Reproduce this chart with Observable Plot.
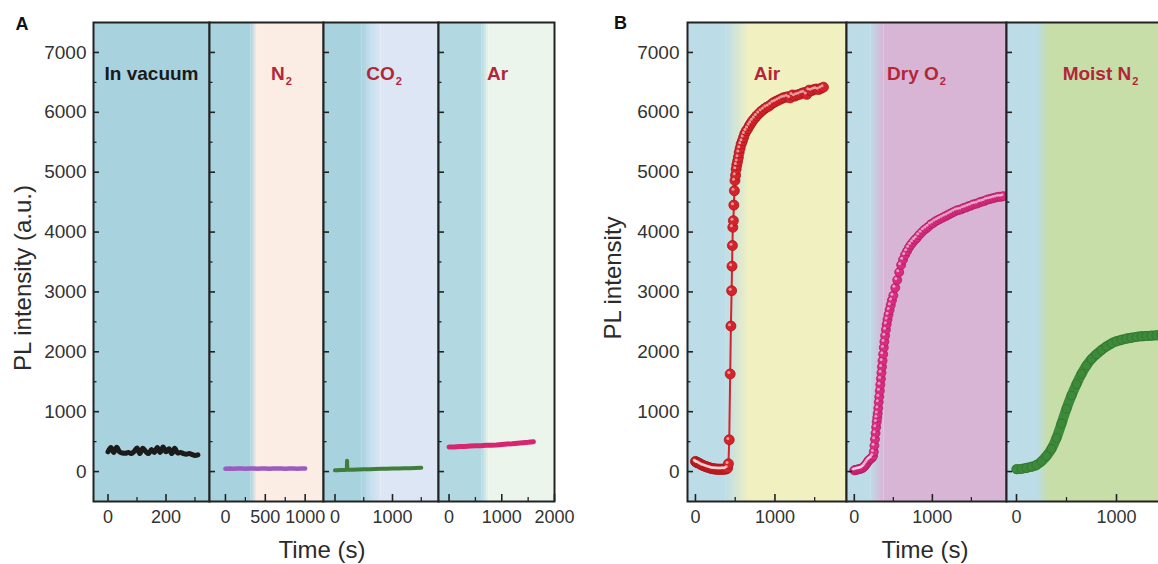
<!DOCTYPE html>
<html>
<head>
<meta charset="utf-8">
<script src="https://cdn.jsdelivr.net/npm/d3@7"></script>
<script src="https://cdn.jsdelivr.net/npm/@observablehq/plot@0.6"></script>
<style>
  html, body { margin: 0; padding: 0; background: #fff; overflow: hidden; }
  #chart { position: relative; width: 1158px; height: 564px; overflow: hidden; background: #fff;
           font-family: "Liberation Sans", Arial, Helvetica, sans-serif; }
  #chart .sub { position: absolute; top: 0; }
  #chart .sub svg { max-width: none !important; display: block; }
  .t { position: absolute; color: #2b2b2b; white-space: nowrap; line-height: 1; }
  .rot { transform: translate(-50%, -50%) rotate(-90deg); }
  .hz { transform: translate(-50%, -50%); }
  .letter { font-weight: bold; font-size: 18px; color: #111; }
  .title { font-size: 24px; }
</style>
</head>
<body>
<svg width="0" height="0" style="position:absolute"><defs id="grads"></defs></svg>
<div id="chart"></div>
<script>
// ---------------- data ----------------
const yTicks = [0, 1000, 2000, 3000, 4000, 5000, 6000, 7000];
const yMinorTicks = [500, 1500, 2500, 3500, 4500, 5500, 6500];
const yDomain = [-500, 7500];

// Panel A
const vacuumTime = [0,10,20,30,40,50,60,70,80,90,100,110,120,130,140,150,160,170,180,190,200,210,220,230,240,250,260,270,280,290,300,310];
const vacuumPL   = [330,400,320,405,330,310,305,320,300,335,395,300,390,335,300,370,320,400,320,410,330,380,300,390,310,320,300,290,300,285,270,280];

const n2Time = [0,50,100,150,200,250,300,350,400,450,500,550,600,650,700,750,800,850,900,950,1000];
const n2PL   = [45,50,48,52,50,47,50,52,49,50,51,48,50,52,50,49,51,50,48,50,50];

const co2Time = [0,50,100,150,205,210,215,250,300,400,500,600,700,800,900,1000,1100,1200,1300,1400,1500];
const co2PL   = [20,22,25,25,30,180,30,30,32,35,38,40,42,45,47,50,52,55,57,60,62];

const arTime = [0,100,200,300,400,500,600,700,800,900,1000,1100,1200,1300,1400,1500,1600];
const arPL   = [410,412,418,420,425,430,432,438,440,445,452,460,465,472,480,488,498];

// Panel B
const airTime = [0,10,20,30,45,60,75,90,105,120,135,150,165,180,195,210,225,240,255,270,285,300,315,330,345,360,375,390,405,415,
  425,437,446,455,460,465,470,477,483,490,497,505,512,520,530,540,550,562,575,590,605,620,640,660,680,700,720,745,770,800,
  830,860,890,920,950,980,1010,1040,1070,1100,1130,1160,1190,1220,1250,1280,1310,1340,1370,1400,1430,1460,1490,1520,1550,1580,1610];
const airPL = [170,160,150,145,140,125,115,105,95,90,80,75,70,60,55,50,45,45,40,40,40,38,40,38,40,42,40,45,60,130,
  530,1630,2430,3020,3430,3775,4080,4190,4450,4690,4860,4950,5050,5120,5180,5250,5330,5400,5470,5520,5580,5640,5690,5730,5780,5820,5860,5900,5940,5980,
  6020,6050,6080,6100,6130,6160,6180,6200,6220,6240,6250,6260,6240,6290,6270,6290,6300,6320,6330,6300,6370,6360,6380,6390,6380,6400,6420];

const dryO2Time = [0,15,30,45,60,75,90,105,120,135,150,165,180,195,210,225,240,
  250,258,265,272,280,287,294,300,307,313,320,327,334,341,348,355,362,370,378,386,395,405,415,426,438,452,467,482,
  500,525,550,575,600,625,650,675,700,725,750,775,800,830,860,890,920,950,980,1010,1040,1070,1100,1130,1160,1190,1220,1250,1280,1310,
  1340,1370,1400,1430,1460,1490,1520,1550,1580,1610,1640,1670,1700,1730,1760,1790,1820,1850,1880,1910];
const dryO2PL = [20,25,30,35,40,45,50,60,75,95,120,150,180,200,215,230,260,
  330,434,540,640,740,830,900,970,1060,1160,1250,1350,1450,1550,1650,1750,1850,1960,2070,2170,2270,2370,2460,2540,2620,2700,2780,2860,
  2940,3070,3200,3330,3450,3540,3620,3680,3740,3790,3830,3870,3900,3950,3990,4030,4060,4090,4130,4150,4180,4200,4220,4240,4260,4280,4300,4320,4340,4360,
  4370,4380,4400,4410,4430,4440,4460,4470,4480,4500,4510,4520,4540,4550,4560,4570,4580,4590,4590,4600];

const moistTime = [0,50,100,150,200,250,300,350,400,450,500,550,600,650,700,750,800,850,900,950,1000,1050,1100,1150,1200,1250,1300,1350,1400,1450];
const moistPL   = [40,45,60,80,110,170,260,380,560,800,1050,1270,1460,1630,1770,1880,1960,2030,2090,2140,2175,2200,2220,2235,2250,2260,2265,2270,2275,2280];

// gas switch windows (s): vacuum -> gas
const n2Switch = [320, 400];
const co2Switch = [470, 800];
const arSwitch = [620, 760];
const airSwitch = [380, 680];
const dryO2Switch = [210, 380];
const moistSwitch = [210, 320];

const labelsA = ["In vacuum", "N\u2082", "CO\u2082", "Ar"];
const labelsB = ["Air", "Dry O\u2082", "Moist N\u2082"];

// ---------------- helpers ----------------
const rows = (t, v) => t.map((x, i) => ({t: x, v: v[i]}));
const H = 564, MT = 22, MB = 63, PH = H - MT - MB;
const FONT = '"Liberation Sans", Arial, Helvetica, sans-serif';
const fmt = d3.format("d");
const SVGNS = "http://www.w3.org/2000/svg";

const BLUE_A = "#a9d2df", BLUE_B = "#bcdce7";
const grads = [
  {id: "gN2", stops: [BLUE_A, "#fcede4"]},
  {id: "gCO2", stops: [BLUE_A, "#c6e0ee", "#dce6f5"]},
  {id: "gAr", stops: ["#b2d8e2", "#ecf5ec"]},
  {id: "gAir", stops: [BLUE_B, "#f1f0c1"]},
  {id: "gO2", stops: [BLUE_B, "#d8b5d5"]},
  {id: "gMoist", stops: [BLUE_B, "#c7dea8"]}
];
const defs = document.getElementById("grads");
for (const g of grads) {
  const lg = document.createElementNS(SVGNS, "linearGradient");
  lg.setAttribute("id", g.id);
  lg.setAttribute("x1", "0"); lg.setAttribute("x2", "1"); lg.setAttribute("y1", "0"); lg.setAttribute("y2", "0");
  g.stops.forEach((c, i) => {
    const s = document.createElementNS(SVGNS, "stop");
    s.setAttribute("offset", String(i / (g.stops.length - 1)));
    s.setAttribute("stop-color", c);
    lg.appendChild(s);
  });
  defs.appendChild(lg);
}

function lineSeries(data, color, width, curve = "linear") {
  return [Plot.line(data, {x: "t", y: "v", stroke: color, strokeWidth: width, curve, strokeLinecap: "round", strokeLinejoin: "round"})];
}
function beadSeries(data, fill, stroke, lineW, r) {
  return [
    Plot.line(data, {x: "t", y: "v", stroke: fill, strokeWidth: lineW}),
    Plot.dot(data, {x: "t", y: "v", r, fill, stroke, strokeWidth: 0.8}),
    Plot.dot(data, {x: "t", y: "v", r: 1.5, dx: -1.4, dy: -1.4, fill: "white", fillOpacity: 0.55})
  ];
}

// render the "₂" in labels as a real lowered subscript
function fixSubscripts(svg) {
  for (const el of svg.querySelectorAll("text")) {
    const s = el.textContent;
    if (!s.includes("\u2082") || el.children.length) continue;
    const [a, b] = s.split("\u2082");
    el.textContent = a;
    const sub = document.createElementNS(SVGNS, "tspan");
    sub.setAttribute("font-size", "11");
    sub.setAttribute("dy", "5");
    sub.setAttribute("dx", "1");
    sub.textContent = "2";
    el.appendChild(sub);
    if (b) {
      const rest = document.createElementNS(SVGNS, "tspan");
      rest.setAttribute("dy", "-5");
      rest.textContent = b;
      el.appendChild(rest);
    }
  }
}

const chart = document.getElementById("chart");

function build(p) {
  const ml = p.ml ?? 40, mr = 40;
  const w = p.right - p.left;
  const [d0, d1] = p.domain;
  const marks = [];
  if (p.sw) {
    marks.push(Plot.rect([{a: d0, b: p.sw[0]}], {x1: "a", x2: "b", fill: p.blue}));
    marks.push(Plot.rect([{a: p.sw[0], b: p.sw[1]}], {x1: "a", x2: "b", fill: `url(#${p.grad})`}));
    marks.push(Plot.rect([{a: p.sw[1], b: d1}], {x1: "a", x2: "b", fill: p.gas}));
  } else {
    marks.push(Plot.rect([{a: d0, b: d1}], {x1: "a", x2: "b", fill: p.blue}));
  }
  marks.push(...p.series);
  marks.push(Plot.tickY(yTicks, {y: d => d, stroke: "#222", strokeWidth: 1.6, insetRight: w - 6}));
  marks.push(Plot.tickY(yMinorTicks, {y: d => d, stroke: "#222", strokeWidth: 1.3, insetRight: w - 3.5}));
  marks.push(Plot.tickX(p.major, {x: d => d, stroke: "#222", strokeWidth: 1.6, insetTop: PH - 7}));
  marks.push(Plot.tickX(p.minor, {x: d => d, stroke: "#222", strokeWidth: 1.3, insetTop: PH - 4}));
  marks.push(Plot.frame({stroke: "#222", strokeWidth: 2}));
  marks.push(Plot.axisX({ticks: p.major, tickSize: 0, tickPadding: 9, tickFormat: fmt, fontSize: 18, color: "#333", label: null}));
  if (p.yLabels) marks.push(Plot.axisY({ticks: yTicks, tickSize: 0, tickPadding: p.yPad, tickFormat: fmt, fontSize: 19, color: "#333", label: null}));
  marks.push(Plot.text([p.label], {text: d => d, frameAnchor: "top", dx: p.dx, dy: 51, lineAnchor: "middle",
    fontSize: 19, fontWeight: "bold", fill: p.labelColor}));
  const svg = Plot.plot({
    width: ml + w + mr, height: H,
    marginLeft: ml, marginRight: mr, marginTop: MT, marginBottom: MB,
    x: {domain: p.domain, label: null},
    y: {domain: yDomain, label: null, axis: p.yLabels ? undefined : null},
    style: {background: "transparent", overflow: "visible", fontFamily: FONT, fontSize: "18px", maxWidth: "none"},
    marks
  });
  fixSubscripts(svg);
  const wrap = document.createElement("div");
  wrap.className = "sub";
  wrap.style.left = (p.left - ml) + "px";
  wrap.style.width = (ml + w + mr) + "px";
  wrap.appendChild(svg);
  chart.appendChild(wrap);
}

const RED_LBL = "#b3263a";

// Panel A
build({left: 93, right: 209, ml: 93, domain: [-50, 350], major: [0, 200], minor: [100, 300], blue: BLUE_A,
  series: lineSeries(rows(vacuumTime, vacuumPL), "#1b1b1b", 5, "catmull-rom"),
  yLabels: true, yPad: 7, label: labelsA[0], labelColor: "#1a1a1a", dx: 0});
build({left: 209, right: 323, domain: [-200, 1230], major: [0, 500, 1000], minor: [250, 750], blue: BLUE_A,
  sw: n2Switch, grad: "gN2", gas: "#fcede4",
  series: lineSeries(rows(n2Time, n2PL), "#9a5cbf", 4.5),
  label: labelsA[1], labelColor: RED_LBL, dx: 15});
build({left: 323, right: 438, domain: [-200, 1800], major: [0, 1000], minor: [500, 1500], blue: BLUE_A,
  sw: co2Switch, grad: "gCO2", gas: "#dce6f5",
  series: lineSeries(rows(co2Time, co2PL), "#3f7d3a", 4),
  label: labelsA[2], labelColor: RED_LBL, dx: 3});
build({left: 438, right: 554, domain: [-200, 2000], major: [0, 1000, 2000], minor: [500, 1500], blue: "#b2d8e2",
  sw: arSwitch, grad: "gAr", gas: "#ecf5ec",
  series: lineSeries(rows(arTime, arPL), "#d6266f", 5),
  label: labelsA[3], labelColor: RED_LBL, dx: 1});

// Panel B
build({left: 687, right: 846, ml: 80, domain: [-100, 1900], major: [0, 1000], minor: [500, 1500], blue: BLUE_B,
  sw: airSwitch, grad: "gAir", gas: "#f1f0c1",
  series: beadSeries(rows(airTime, airPL), "#d6232a", "#a8161c", 2, 5),
  yLabels: true, yPad: 8, label: labelsB[0], labelColor: RED_LBL, dx: 0});
build({left: 846, right: 1006, domain: [-100, 1950], major: [0, 1000], minor: [500, 1500], blue: BLUE_B,
  sw: dryO2Switch, grad: "gO2", gas: "#d8b5d5",
  series: beadSeries(rows(dryO2Time, dryO2PL), "#d92b80", "#b01d66", 2, 4.5),
  label: labelsB[1], labelColor: RED_LBL, dx: -10});
build({left: 1006, right: 1166, domain: [-100, 1500], major: [0, 1000], minor: [500], blue: BLUE_B,
  sw: moistSwitch, grad: "gMoist", gas: "#c7dea8",
  series: [
    Plot.line(rows(moistTime, moistPL), {x: "t", y: "v", stroke: "#3e8a3b", strokeWidth: 10, curve: "natural", strokeLinecap: "round"}),
    Plot.dot(rows(moistTime, moistPL), {x: "t", y: "v", r: 4.5, fill: "#3e8a3b", stroke: "#2f742d", strokeWidth: 0.8})
  ],
  label: labelsB[2], labelColor: RED_LBL, dx: 14});

// titles
function addText(txt, cls, x, y) {
  const d = document.createElement("div");
  d.className = "t " + cls;
  d.textContent = txt;
  d.style.left = x + "px";
  d.style.top = y + "px";
  chart.appendChild(d);
}
addText("A", "letter hz", 22, 23.5);
addText("B", "letter hz", 620.5, 22.5);
addText("PL intensity (a.u.)", "title rot", 22.5, 278);
addText("PL intensity", "title rot", 613, 278);
addText("Time (s)", "title hz", 322, 550);
addText("Time (s)", "title hz", 925, 550);
</script>
</body>
</html>
